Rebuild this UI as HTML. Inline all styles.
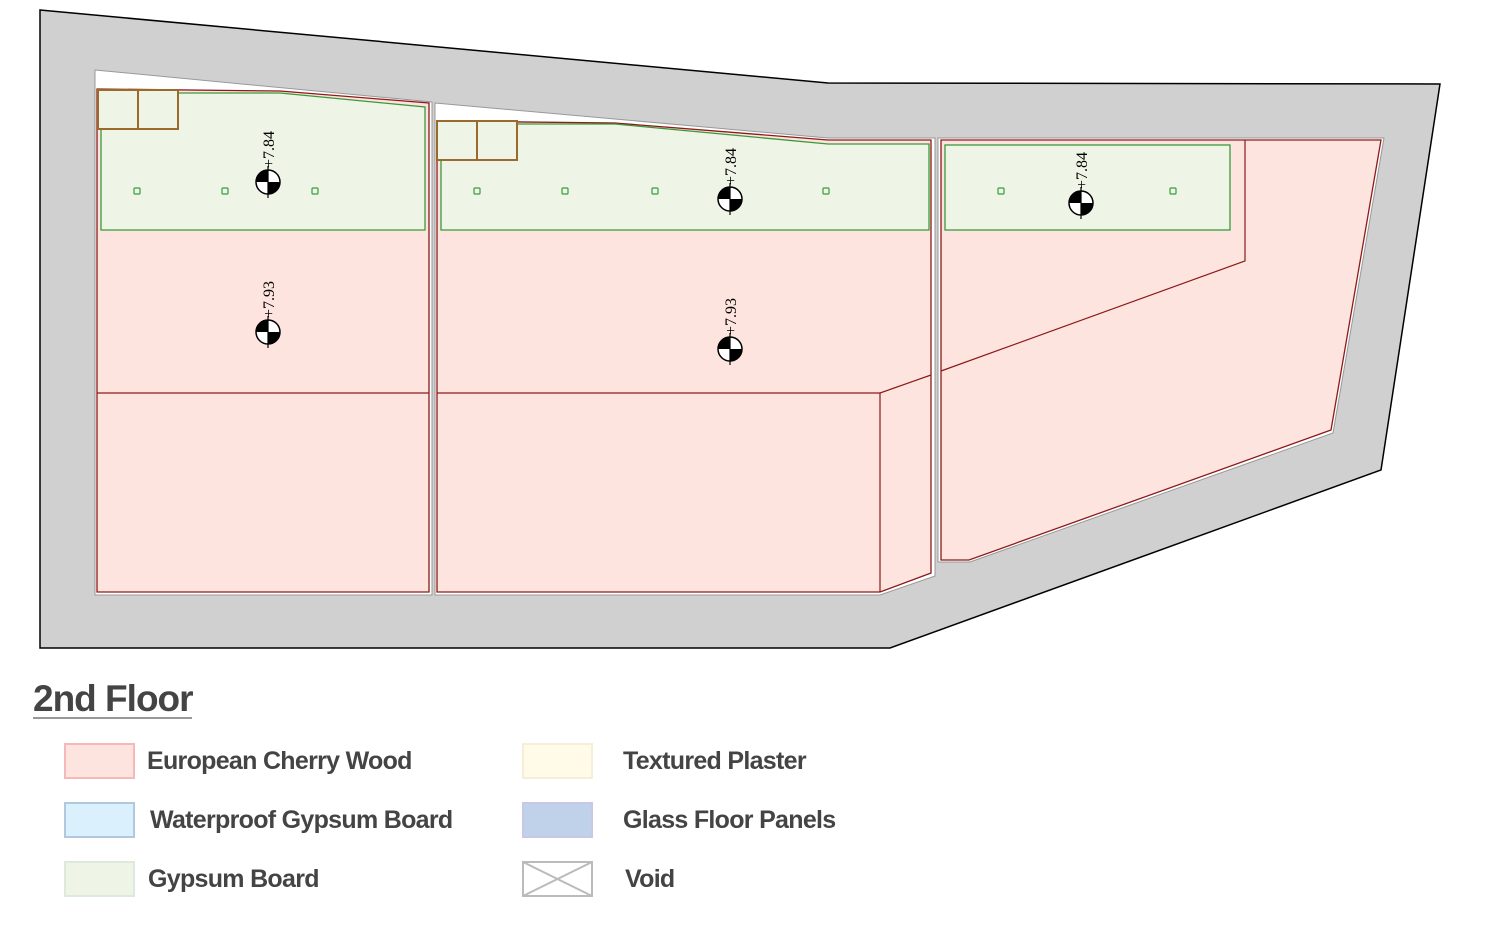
<!DOCTYPE html>
<html><head><meta charset="utf-8"><style>
body{margin:0;background:#fff;width:1500px;height:938px;overflow:hidden}
svg text{font-family:"Liberation Sans",sans-serif}
</style></head><body>
<svg width="1500" height="938" viewBox="0 0 1500 938" xmlns="http://www.w3.org/2000/svg">
<polygon points="40,10 828,83 1440,84 1381,470 890,648 40,648" fill="#d0d0d0" stroke="#000" stroke-width="1.5"/>
<!-- room 1 -->
<polygon points="95,70 432,102 432,595 95,595" fill="#fff" stroke="#999" stroke-width="1"/>
<polygon points="97,89 280,91 429,103 429,592 97,592" fill="#fde4de" stroke="#8b1a1a" stroke-width="1.3"/>
<line x1="97" y1="393" x2="429" y2="393" stroke="#8b1a1a" stroke-width="1.2"/>
<polygon points="178,93 280,93 425,107 425,230 101,230 101,129 178,129" fill="#eef5e6" stroke="#3a9a3a" stroke-width="1.3"/>
<rect x="98" y="90" width="40" height="39" fill="#eef5e6" stroke="#9a6a2a" stroke-width="2"/>
<rect x="138" y="90" width="40" height="39" fill="#eef5e6" stroke="#9a6a2a" stroke-width="2"/>
<!-- room 2 -->
<polygon points="435,103 828,138 935,138 935,576 880,595 435,595" fill="#fff" stroke="#999" stroke-width="1"/>
<polygon points="437,121 615,123 828,140 931,140 931,573 880,592 437,592" fill="#fde4de" stroke="#8b1a1a" stroke-width="1.3"/>
<polyline points="437,393 880,393 880,592" fill="none" stroke="#8b1a1a" stroke-width="1.2"/>
<line x1="880" y1="393" x2="931" y2="375" stroke="#8b1a1a" stroke-width="1.2"/>
<polygon points="517,124 615,124 828,144 929,144 929,230 441,230 441,160 517,160" fill="#eef5e6" stroke="#3a9a3a" stroke-width="1.3"/>
<rect x="437" y="121" width="40" height="39" fill="#eef5e6" stroke="#9a6a2a" stroke-width="2"/>
<rect x="477" y="121" width="40" height="39" fill="#eef5e6" stroke="#9a6a2a" stroke-width="2"/>
<!-- room 3 -->
<polygon points="938,138 1384,138 1333,433 970,562 938,562" fill="#fff" stroke="#999" stroke-width="1"/>
<polygon points="941,140 1381,140 1331,430 969,560 941,560" fill="#fde4de" stroke="#8b1a1a" stroke-width="1.3"/>
<polyline points="1245,140 1245,261 941,371" fill="none" stroke="#8b1a1a" stroke-width="1.2"/>
<rect x="945" y="145" width="285" height="85" fill="#eef5e6" stroke="#3a9a3a" stroke-width="1.3"/>
<!-- small squares -->
<g fill="none" stroke="#3a9a3a" stroke-width="1.2">
<rect x="134" y="188" width="6" height="6" rx="1"/><rect x="222" y="188" width="6" height="6" rx="1"/><rect x="312" y="188" width="6" height="6" rx="1"/>
<rect x="474" y="188" width="6" height="6" rx="1"/><rect x="562" y="188" width="6" height="6" rx="1"/><rect x="652" y="188" width="6" height="6" rx="1"/><rect x="823" y="188" width="6" height="6" rx="1"/>
<rect x="998" y="188" width="6" height="6" rx="1"/><rect x="1170" y="188" width="6" height="6" rx="1"/>
</g>
<!-- markers -->
<defs>
<g id="mk">
<circle r="12" fill="#fff" stroke="#000" stroke-width="1.5"/>
<path d="M0,0 L-12,0 A12,12 0 0 1 0,-12 Z" fill="#000"/>
<path d="M0,0 L12,0 A12,12 0 0 1 0,12 Z" fill="#000"/>
<line x1="0" y1="-16" x2="0" y2="16" stroke="#000" stroke-width="1.2"/>
</g>
</defs>
<g font-size="16" fill="#000">
<use href="#mk" x="268" y="182"/><text style="font-family:'Liberation Serif',serif" transform="translate(274,168) rotate(-90)">+7.84</text>
<use href="#mk" x="730" y="199"/><text style="font-family:'Liberation Serif',serif" transform="translate(736,185) rotate(-90)">+7.84</text>
<use href="#mk" x="1081" y="203"/><text style="font-family:'Liberation Serif',serif" transform="translate(1087,189) rotate(-90)">+7.84</text>
<use href="#mk" x="268" y="332"/><text style="font-family:'Liberation Serif',serif" transform="translate(274,318) rotate(-90)">+7.93</text>
<use href="#mk" x="730" y="349"/><text style="font-family:'Liberation Serif',serif" transform="translate(736,335) rotate(-90)">+7.93</text>
</g>
<!-- legend -->
<text x="33" y="711" font-size="37" font-weight="bold" fill="#444" letter-spacing="-1">2nd Floor</text>
<line x1="33" y1="718" x2="192" y2="718" stroke="#777" stroke-width="1.5"/>
<rect x="65" y="744" width="69" height="34" fill="#fde4de" stroke="#f6b8b8" stroke-width="2"/>
<rect x="65" y="803" width="69" height="34" fill="#daf0fc" stroke="#b0c8e0" stroke-width="2"/>
<rect x="65" y="862" width="69" height="34" fill="#eef5e6" stroke="#dde9dd" stroke-width="2"/>
<rect x="523" y="744" width="69" height="34" fill="#fffbe8" stroke="#f6efd6" stroke-width="2"/>
<rect x="523" y="803" width="69" height="34" fill="#c0d2ea" stroke="#c8c8e6" stroke-width="2"/>
<rect x="523" y="862" width="69" height="34" fill="#fff" stroke="#bbb" stroke-width="2"/>
<path d="M523,862 L592,896 M592,862 L523,896" stroke="#bbb" stroke-width="2"/>
<g font-size="25" font-weight="bold" fill="#444" letter-spacing="-0.7">
<text x="147" y="769">European Cherry Wood</text>
<text x="150" y="828">Waterproof Gypsum Board</text>
<text x="148" y="887">Gypsum Board</text>
<text x="623" y="769">Textured Plaster</text>
<text x="623" y="828">Glass Floor Panels</text>
<text x="625" y="887">Void</text>
</g>
</svg>
</body></html>
